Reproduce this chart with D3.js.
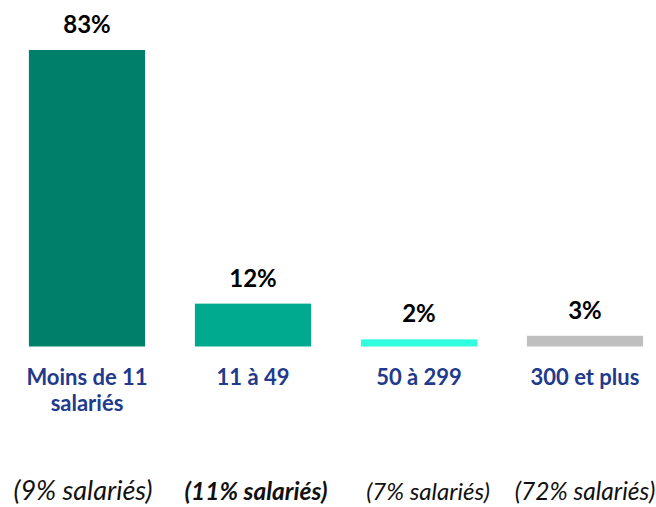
<!DOCTYPE html>
<html>
<head>
<meta charset="utf-8">
<style>
  body { margin: 0; background: #fff; }
  text { font-family: Lato, "Open Sans", sans-serif; }
</style>
</head>
<body>
<script src="https://cdn.jsdelivr.net/npm/d3@7/dist/d3.min.js"></script>
<div id="chart"></div>
<script>
// data
var categories = ["Moins de 11 salariés", "11 à 49", "50 à 299", "300 et plus"];
var catLines = [["Moins de 11", "salariés"], ["11 à 49"], ["50 à 299"], ["300 et plus"]];
var values = [83, 12, 2, 3];
var notes = ["(9% salariés)", "(11% salariés)", "(7% salariés)", "(72% salariés)"];

// styles
var colors = ["#00806b", "#00aa8f", "#30ffdf", "#bfbfbf"];
var noteSizes = [27, 24.5, 24, 24.5];
var noteBold = [false, true, false, false];
var noteShift = [-4, 3, 9, 0];

var width = 656, height = 507;

var svg = d3.select("#chart").append("svg")
    .attr("width", width)
    .attr("height", height);

var x = d3.scaleBand()
    .domain(categories)
    .range([4, 668])
    .paddingInner(0.3)
    .paddingOuter(0.15);

var y = d3.scaleLinear()
    .domain([0, 83])
    .range([346.5, 50]);

// bars
svg.selectAll(".bar").data(values)
  .enter().append("rect")
    .attr("class", "bar")
    .attr("x", function(d, i) { return x(categories[i]); })
    .attr("y", function(d) { return y(d); })
    .attr("width", x.bandwidth())
    .attr("height", function(d) { return y(0) - y(d); })
    .attr("fill", function(d, i) { return colors[i]; });

// value labels
svg.selectAll(".val").data(values)
  .enter().append("text")
    .attr("class", "val")
    .attr("x", function(d, i) { return x(categories[i]) + x.bandwidth() / 2; })
    .attr("y", function(d) { return y(d) - 17; })
    .attr("text-anchor", "middle")
    .style("font-size", "24px")
    .style("font-weight", "bold")
    .attr("fill", "#000")
    .text(function(d) { return d + "%"; });

// category labels
var cat = svg.selectAll(".cat").data(catLines)
  .enter().append("text")
    .attr("class", "cat")
    .attr("x", function(d, i) { return x(categories[i]) + x.bandwidth() / 2; })
    .attr("y", 385)
    .attr("text-anchor", "middle")
    .style("font-size", "22px")
    .style("font-weight", "bold")
    .attr("fill", "#223a8c");
cat.each(function(lines, i) {
  var t = d3.select(this);
  lines.forEach(function(l, j) {
    t.append("tspan")
      .attr("x", x(categories[i]) + x.bandwidth() / 2)
      .attr("dy", j === 0 ? 0 : 26)
      .text(l);
  });
});

// share of employees
svg.selectAll(".note").data(notes)
  .enter().append("text")
    .attr("class", "note")
    .attr("x", function(d, i) { return x(categories[i]) + x.bandwidth() / 2 + noteShift[i]; })
    .attr("y", 500)
    .attr("text-anchor", "middle")
    .style("font-size", function(d, i) { return noteSizes[i] + "px"; })
    .style("font-style", "italic")
    .style("font-weight", function(d, i) { return noteBold[i] ? "bold" : "normal"; })
    .attr("fill", "#111")
    .text(function(d) { return d; });
</script>
</body>
</html>
